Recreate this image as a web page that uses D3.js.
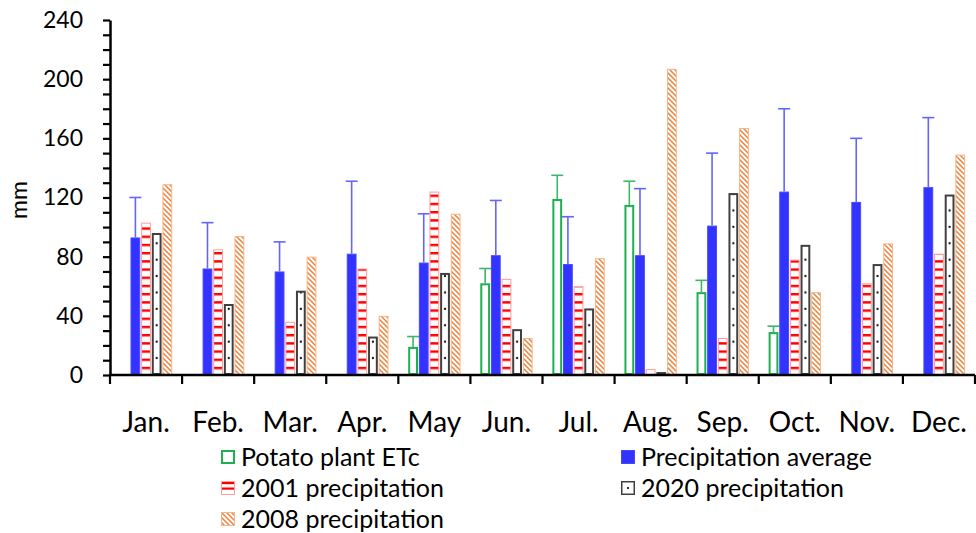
<!DOCTYPE html>
<html>
<head>
<meta charset="utf-8">
<script src="https://cdn.jsdelivr.net/npm/d3@7"></script>
<style>
    body { margin: 0; background: #fff; }
    svg { display: block; font-family: Lato, "Open Sans", sans-serif; }
</style>
</head>
<body>
<svg width="976" height="533"></svg>
<script>
// values (mm)
var months = ["Jan.", "Feb.", "Mar.", "Apr.", "May", "Jun.", "Jul.", "Aug.", "Sep.", "Oct.", "Nov.", "Dec."];
var etc = [0, 0, 0, 0, 19, 62, 119, 115, 56, 29, 0, 0];
var etcErr = [0, 0, 0, 0, 7, 10, 16, 16, 8, 4, 0, 0];
var avg = [93, 72, 70, 82, 76, 81, 75, 81, 101, 124, 117, 127];
var avgErr = [27, 31, 20, 49, 33, 37, 32, 45, 49, 56, 43, 47];
var p2001 = [103, 85, 36, 72, 124, 65, 60, 4, 25, 78, 62, 82];
var p2020 = [96, 48, 57, 26, 69, 31, 45, 2, 123, 88, 75, 122];
var p2008 = [129, 94, 80, 40, 109, 25, 79, 207, 167, 56, 89, 149];
var yTicks = [0, 40, 80, 120, 160, 200, 240];

var seriesNames = ["Potato plant ETc", "Precipitation average", "2001 precipitation", "2020 precipitation", "2008 precipitation"];
var seriesKeys = ["etc", "avg", "p2001", "p2020", "p2008"];
var seriesValues = [etc, avg, p2001, p2020, p2008];
var seriesErr = [etcErr, avgErr, null, null, null];

var svg = d3.select("svg");
var top0 = 20, bottom0 = 375, left0 = 110, right0 = 975;

var y = d3.scaleLinear().domain([0, 240]).range([bottom0, top0]);
var x0 = d3.scaleBand().domain(months).range([left0, right0]).paddingInner(0.25).paddingOuter(0.125);
var x1 = d3.scaleBand().domain(seriesKeys).range([0, x0.bandwidth()]).padding(0.08);

var style = {
    etc:   {fill: "#fff", stroke: "#1DB050", sw: 2, err: "#3DB86A"},
    avg:   {fill: "#3333FF", stroke: "#4747FF", sw: 1, err: "#6464FF"},
    p2001: {fill: "url(#stripes)", stroke: "#FF9C9C", sw: 1},
    p2020: {fill: "url(#dots)", stroke: "#404040", sw: 2},
    p2008: {fill: "url(#diag)", stroke: "#F6B58C", sw: 1}
};

// patterns
var defs = svg.append("defs");
var stripes = defs.append("pattern")
    .attr("id", "stripes")
    .attr("patternUnits", "userSpaceOnUse")
    .attr("x", 0).attr("y", y(0))
    .attr("width", 10).attr("height", 8.2);
stripes.append("rect").attr("width", 10).attr("height", 8.2).attr("fill", "#fff");
stripes.append("rect").attr("width", 10).attr("height", 2.4).attr("fill", "#FF0000");

var dots = defs.append("pattern")
    .attr("id", "dots")
    .attr("patternUnits", "userSpaceOnUse")
    .attr("x", x0(months[0]) + x1("p2020")).attr("y", y(0) - 0.5)
    .attr("width", x0.step()).attr("height", 16.4);
dots.append("rect").attr("width", x0.step()).attr("height", 16.4).attr("fill", "#fff");
dots.append("circle").attr("cx", x1.bandwidth() / 2).attr("cy", 0).attr("r", 1.1).attr("fill", "#000");
dots.append("circle").attr("cx", x1.bandwidth() / 2).attr("cy", 16.4).attr("r", 1.1).attr("fill", "#000");

var diag = defs.append("pattern")
    .attr("id", "diag")
    .attr("patternUnits", "userSpaceOnUse")
    .attr("width", 5).attr("height", 5);
diag.append("rect").attr("width", 5).attr("height", 5).attr("fill", "#fff");
diag.append("path")
    .attr("d", "M0,0 L5,5 M-1,4 L1,6 M4,-1 L6,1")
    .attr("stroke", "#ED7D31")
    .attr("stroke-width", 1.4);

// bars
var g = svg.append("g");
seriesKeys.forEach(function (key, si) {
    var s = style[key];
    var rows = months.map(function (m, i) {
        return {month: m, value: seriesValues[si][i], err: seriesErr[si] ? seriesErr[si][i] : 0};
    }).filter(function (d) { return d.value > 0; });
    var inset = s.sw / 2;

    g.append("g")
        .selectAll("rect")
        .data(rows)
        .enter()
        .append("rect")
        .attr("x", function (d) { return x0(d.month) + x1(key) + inset; })
        .attr("y", function (d) { return y(d.value) + inset; })
        .attr("width", x1.bandwidth() - 2 * inset)
        .attr("height", function (d) { return Math.max(0, y(0) - y(d.value) - 2 * inset); })
        .attr("fill", s.fill)
        .attr("stroke", s.stroke)
        .attr("stroke-width", s.sw);

    if (seriesErr[si]) {
        var eg = g.append("g")
            .attr("stroke", s.err)
            .attr("stroke-width", 1.6);
        var withErr = rows.filter(function (d) { return d.err > 0; });
        eg.selectAll("line.v")
            .data(withErr)
            .enter()
            .append("line")
            .attr("class", "v")
            .attr("x1", function (d) { return x0(d.month) + x1(key) + x1.bandwidth() / 2; })
            .attr("x2", function (d) { return x0(d.month) + x1(key) + x1.bandwidth() / 2; })
            .attr("y1", function (d) { return y(d.value); })
            .attr("y2", function (d) { return y(d.value + d.err); });
        eg.selectAll("line.cap")
            .data(withErr)
            .enter()
            .append("line")
            .attr("class", "cap")
            .attr("x1", function (d) { return x0(d.month) + x1(key) + x1.bandwidth() / 2 - 6; })
            .attr("x2", function (d) { return x0(d.month) + x1(key) + x1.bandwidth() / 2 + 6; })
            .attr("y1", function (d) { return y(d.value + d.err); })
            .attr("y2", function (d) { return y(d.value + d.err); });
    }
});

// y axis
var yAxis = svg.append("g")
    .attr("transform", "translate(" + left0 + ",0)")
    .call(d3.axisLeft(y)
        .tickValues(d3.range(0, 241, 10))
        .tickFormat(function (d) { return yTicks.indexOf(d) >= 0 ? d : ""; })
        .tickSize(7)
        .tickSizeOuter(0)
        .tickPadding(20));
yAxis.select(".domain").attr("stroke", "#000").attr("stroke-width", 2.5);
yAxis.selectAll(".tick line").attr("stroke", "#000").attr("stroke-width", 2.2);
yAxis.selectAll(".tick text")
    .attr("fill", "#000")
    .style("font-size", "23px")
    .style("font-family", "Lato, sans-serif");

svg.append("text")
    .attr("transform", "translate(27,200) rotate(-90)")
    .attr("text-anchor", "middle")
    .style("font-size", "23px")
    .text("mm");

// x axis
var xg = svg.append("g");
xg.append("line")
    .attr("x1", left0 - 1).attr("x2", right0)
    .attr("y1", y(0)).attr("y2", y(0))
    .attr("stroke", "#000").attr("stroke-width", 2.5);
xg.selectAll("line.tk")
    .data(d3.range(months.length + 1))
    .enter()
    .append("line")
    .attr("class", "tk")
    .attr("x1", function (i) { return x0.range()[0] + i * x0.step(); })
    .attr("x2", function (i) { return x0.range()[0] + i * x0.step(); })
    .attr("y1", y(0))
    .attr("y2", y(0) + 9)
    .attr("stroke", "#000").attr("stroke-width", 2.2);
xg.selectAll("text")
    .data(months)
    .enter()
    .append("text")
    .attr("x", function (m) { return x0(m) + x0.bandwidth() / 2; })
    .attr("y", 432)
    .attr("text-anchor", "middle")
    .style("font-size", "28px")
    .text(function (m) { return m; });

// legend
var legendPos = [
    {key: "etc", x: 221, y: 450},
    {key: "avg", x: 621, y: 450},
    {key: "p2001", x: 221, y: 481},
    {key: "p2020", x: 621, y: 481},
    {key: "p2008", x: 221, y: 512}
];
var lg = svg.append("g");
legendPos.forEach(function (p) {
    var s = style[p.key];
    var item = lg.append("g").attr("transform", "translate(" + p.x + "," + p.y + ")");
    var inset = s.sw / 2;
    if (p.key === "p2001") {
        item.append("rect").attr("x", 0.5).attr("y", 0.5).attr("width", 13).attr("height", 13)
            .attr("fill", "#fff").attr("stroke", s.stroke);
        item.append("rect").attr("x", 1).attr("y", 1).attr("width", 12).attr("height", 2.2).attr("fill", "#FF0000");
        item.append("rect").attr("x", 1).attr("y", 6.5).attr("width", 12).attr("height", 2.2).attr("fill", "#FF0000");
    } else if (p.key === "p2020") {
        item.append("rect").attr("x", 0.75).attr("y", 0.75).attr("width", 12.5).attr("height", 12.5)
            .attr("fill", "#fff").attr("stroke", "#404040").attr("stroke-width", 1.5);
        item.append("circle").attr("cx", 7).attr("cy", 7).attr("r", 1.1).attr("fill", "#000");
    } else {
        item.append("rect").attr("x", inset).attr("y", inset)
            .attr("width", 14 - 2 * inset).attr("height", 14 - 2 * inset)
            .attr("fill", s.fill).attr("stroke", s.stroke).attr("stroke-width", s.sw);
    }
    item.append("text")
        .attr("x", 20)
        .attr("y", 16)
        .style("font-size", "25px")
        .text(seriesNames[seriesKeys.indexOf(p.key)]);
});
</script>
</body>
</html>
